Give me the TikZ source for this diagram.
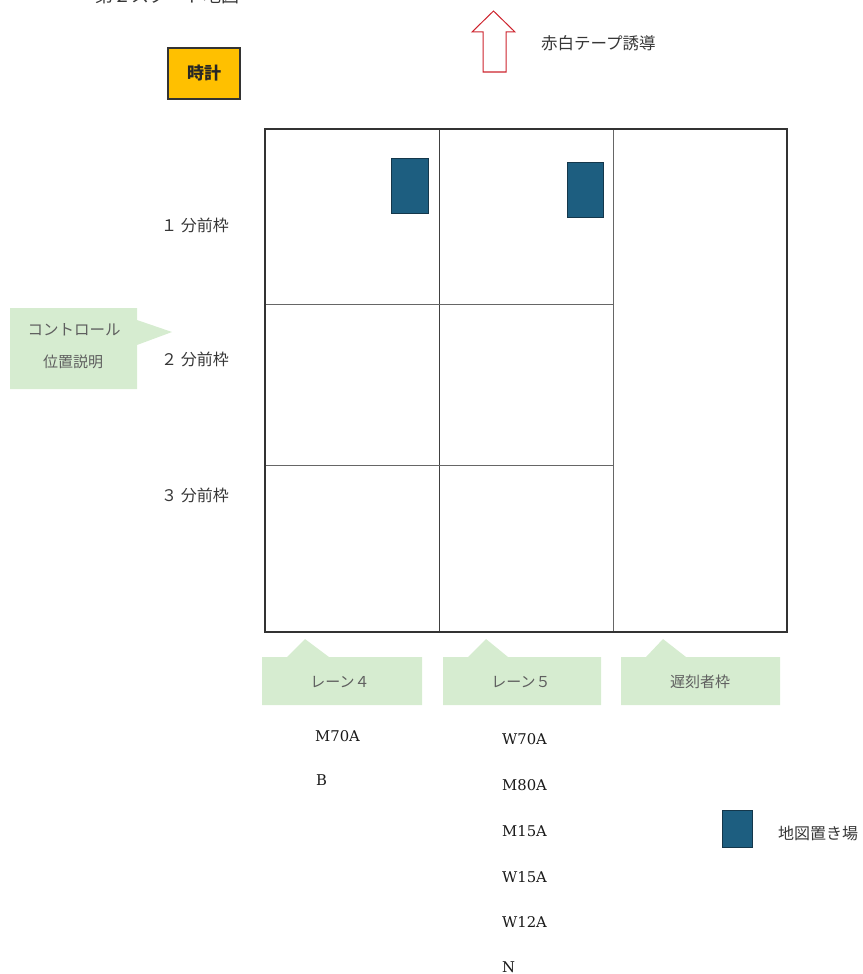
\documentclass[tikz,border=0pt]{standalone}
\usepackage{fontspec}
\setmainfont{DejaVu Serif}
\newfontfamily\jp{Noto Sans CJK JP}
\definecolor{callgreen}{RGB}{214,236,208}
\definecolor{maptile}{RGB}{29,94,128}
\definecolor{mapedge}{RGB}{20,55,75}
\definecolor{clockfill}{RGB}{255,192,0}
\definecolor{arrowred}{RGB}{205,35,45}
\definecolor{calltext}{RGB}{95,95,95}
\definecolor{labeltext}{RGB}{55,55,55}
\begin{document}
\begin{tikzpicture}[x=1pt,y=-1pt,
  jplabel/.style={font=\jp\fontsize{16}{18}\selectfont, text=labeltext, inner sep=0pt},
  calltxt/.style={font=\jp\fontsize{15}{17}\selectfont, text=calltext, inner sep=0pt},
  course/.style={font=\fontsize{14.8}{16}\selectfont, text=black!90, inner sep=0pt, anchor=west},
  maprect/.style={draw=mapedge, line width=0.8pt, fill=maptile, inner sep=0pt},
  outerline/.style={draw=black!80, line width=1.5pt},
  midline/.style={draw=black!75, line width=1.1pt},
  thinline/.style={draw=black!60, line width=0.8pt},
  callfill/.style={fill=callgreen}
]
\useasboundingbox (0,0) rectangle (862,974);

% cut-off title (cut off at the top edge in the reference as well)
\node[jplabel, font=\jp\fontsize{18}{20}\selectfont, anchor=base west] (title) at (95,3) {第２スタート地図};

% clock
\node[draw=black!80, line width=1.2pt, fill=clockfill, minimum width=72, minimum height=51, inner sep=0pt,
      font=\jp\bfseries\fontsize{17}{19}\selectfont, text=black!85] (clock) at (204,73.5) {時計};

% red block arrow
\coordinate (arrowtip) at (493.5,11);
\draw[arrowred, line width=1pt, line join=miter] (483,72) -- (483,32) -- (472,32) -- (arrowtip) -- (515,32) -- (506,32) -- (506,72) -- cycle;
\node[jplabel, font=\jp\fontsize{16.5}{18}\selectfont, anchor=west] (tape) at (541,43) {赤白テープ誘導};

% grid
\draw[midline] (439.5,129) -- (439.5,632);
\draw[thinline] (613,129) -- (613,632);
\draw[thinline] (265,304) -- (613,304);
\draw[thinline] (265,465) -- (613,465);
\draw[outerline] (265,129) rectangle (787,632);

% map tiles
\node[maprect, minimum width=37, minimum height=55] (map1) at (409.5,185.5) {};
\node[maprect, minimum width=36, minimum height=55] (map2) at (585,189.5) {};

% row labels
\node[jplabel, anchor=east] (row1) at (229,225) {１ 分前枠};
\node[jplabel, anchor=east] (row2) at (229,359) {２ 分前枠};
\node[jplabel, anchor=east] (row3) at (229,495) {３ 分前枠};

% left callout
\fill[callfill] (10,308) -- (137,308) -- (137,320) -- (172,332) -- (137,345) -- (137,389) -- (10,389) -- cycle;
\node[calltxt, font=\jp\fontsize{15.5}{17}\selectfont] (ctrl1) at (74,330) {コントロール};
\node[calltxt] (ctrl2) at (73,362) {位置説明};

% bottom callouts
\fill[callfill] (262,657) -- (287,657) -- (305,639) -- (329,657) -- (422,657) -- (422,705) -- (262,705) -- cycle;
\fill[callfill] (443,657) -- (468,657) -- (486,639) -- (508,657) -- (601,657) -- (601,705) -- (443,705) -- cycle;
\fill[callfill] (621,657) -- (646,657) -- (663,639) -- (686,657) -- (780,657) -- (780,705) -- (621,705) -- cycle;
\node[calltxt] (lane4) at (340,682) {レーン４};
\node[calltxt] (lane5) at (521,682) {レーン５};
\node[calltxt] (late) at (700,682) {遅刻者枠};

% course lists
\node[course] (c1) at (315,736) {M70A};
\node[course] (c2) at (316,780) {B};
\node[course] (d1) at (502,739) {W70A};
\node[course] (d2) at (502,785) {M80A};
\node[course] (d3) at (502,831) {M15A};
\node[course] (d4) at (502,877) {W15A};
\node[course] (d5) at (502,922) {W12A};
\node[course] (d6) at (502,967) {N};

% legend
\node[maprect, minimum width=30, minimum height=37] (legmap) at (737,828.5) {};
\node[jplabel, anchor=west, font=\jp\fontsize{16}{17}\selectfont] (legtext) at (778,833) {地図置き場};
\end{tikzpicture}
\end{document}
